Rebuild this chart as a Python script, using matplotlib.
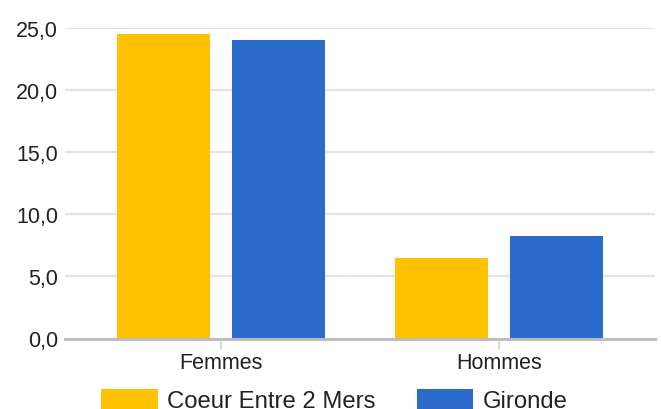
import matplotlib
matplotlib.use("Agg")
import matplotlib.pyplot as plt
from matplotlib.ticker import FuncFormatter, MultipleLocator
import numpy as np

categories = ["Femmes", "Hommes"]
series_names = ["Coeur Entre 2 Mers", "Gironde"]
coeur = [24.5, 6.5]
gironde = [24.0, 8.25]
colors = ["#FFC200", "#2A6BCB"]

plt.rcParams['font.family'] = ['Liberation Sans', 'DejaVu Sans']
fs = 15.5
lfs = 17.2

fig = plt.figure(figsize=(6.61, 4.10), dpi=100)
ax = fig.add_axes([65/661, 1-339.5/410, 590/661, (339.5-28.7)/410])

x = np.arange(len(categories))
w = 0.335
off = 0.207
b1 = ax.bar(x - off, coeur, width=w, color=colors[0], label=series_names[0], zorder=3)
b2 = ax.bar(x + off, gironde, width=w, color=colors[1], label=series_names[1], zorder=3)

ax.set_xlim(-0.561, 1.561)
ax.set_ylim(0, 25)
ax.yaxis.set_major_locator(MultipleLocator(5))
ax.yaxis.set_major_formatter(FuncFormatter(lambda v, p: f"{v:.1f}".replace(".", ",")))
ax.set_xticks(x)
ax.set_xticklabels(categories)

for s in ["top", "right", "left"]:
    ax.spines[s].set_visible(False)
ax.spines["bottom"].set_color("#bdbdbd")
ax.spines["bottom"].set_linewidth(2.2)
ax.spines["bottom"].set_zorder(4)

ax.grid(axis="y", color="#e4e4e4", linewidth=1.6, zorder=0)
ax.set_axisbelow(True)
ax.tick_params(axis="y", length=0, pad=5, labelsize=fs, labelcolor="#222222")
ax.tick_params(axis="x", length=7, width=1.3, color="#d4d4d4", pad=3, labelsize=fs, labelcolor="#222222")

leg = fig.legend(handles=[b1, b2], loc="upper center",
                 bbox_to_anchor=(334.5/661, 1-389.5/410), ncol=2, frameon=False,
                 fontsize=lfs, handlelength=2.37, handleheight=1.0,
                 handletextpad=0.4, columnspacing=1.72, borderpad=0,
                 borderaxespad=0)
for t in leg.get_texts():
    t.set_color("#222222")

fig.savefig("out.png", dpi=100)
